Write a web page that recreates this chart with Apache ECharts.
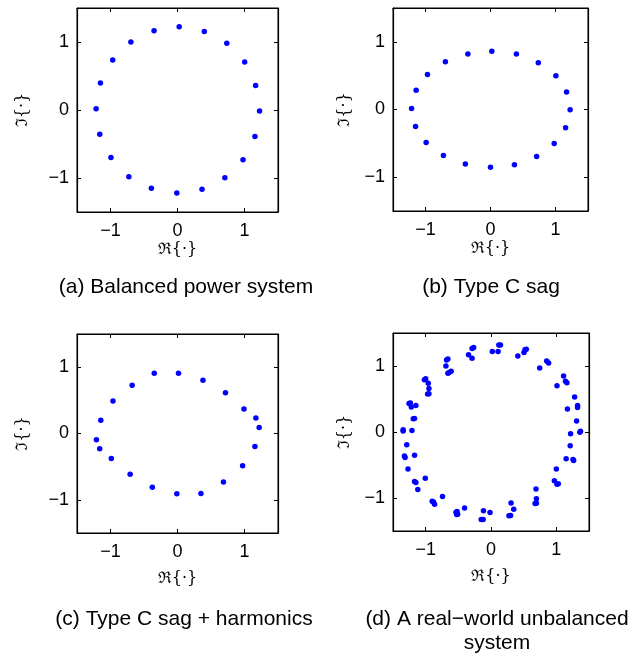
<!DOCTYPE html>
<html>
<head>
<meta charset="utf-8">
<script src="https://cdn.jsdelivr.net/npm/echarts@6/dist/echarts.min.js"></script>
<style>
  html, body { margin: 0; padding: 0; background: #fff; }
  #chart { width: 632px; height: 657px; }
</style>
</head>
<body>
<div id="chart"></div>
<script>
// Space-vector samples (real / imaginary parts) for each operating condition

// (a) Balanced power system
const balancedRe = [0.025, 0.40, 0.736, 1.003, 1.166, 1.225, 1.156, 0.978, 0.707, 0.366,
  -0.01, -0.39, -0.726, -0.993, -1.16, -1.215, -1.15, -0.967, -0.696, -0.35];
const balancedIm = [1.225, 1.156, 0.98, 0.705, 0.362, -0.015, -0.388, -0.731, -0.996, -1.167,
  -1.22, -1.152, -0.981, -0.697, -0.358, 0.02, 0.397, 0.735, 1.0, 1.166];

// (b) Type C sag
const sagRe = [0.02, 0.398, 0.735, 1.006, 1.17, 1.225, 1.155, 0.98, 0.71, 0.368,
  0.0, -0.387, -0.724, -0.99, -1.153, -1.214, -1.144, -0.97, -0.694, -0.348];
const sagIm = [0.859, 0.82, 0.69, 0.5, 0.257, -0.005, -0.27, -0.504, -0.696, -0.815,
  -0.855, -0.805, -0.681, -0.489, -0.252, 0.015, 0.286, 0.519, 0.706, 0.82];

// (c) Type C sag + harmonics
const harmRe = [0.015, 0.38, 0.716, 0.992, 1.17, 1.219, 1.156, 0.972, 0.686, 0.35,
  -0.01, -0.376, -0.707, -0.988, -1.161, -1.21, -1.145, -0.963, -0.677, -0.347];
const harmIm = [0.909, 0.804, 0.615, 0.369, 0.234, 0.09, -0.195, -0.486, -0.73, -0.906,
  -0.91, -0.81, -0.615, -0.375, -0.231, -0.096, 0.2, 0.489, 0.729, 0.909];

// (d) Measured unbalanced system
const realRe = [-0.29, -0.265, 0.02, -0.344, -0.29, -0.68, -0.66, -0.69, -0.66, -0.64,
  -0.61, -1.02, -1.0, -0.96, -0.95, -0.97, -0.95, -1.255, -1.235, -1.22,
  -1.15, -1.19, -1.17, -1.345, -1.345, -1.21,
  0.12, 0.145, 0.108, 0.52, 0.54, 0.505, 0.41, 0.852, 0.882, 0.745,
  1.111, 1.14, 1.162, 1.01, 1.28, 1.325, 1.325, 1.17, 1.31, 1.36, 1.37,
  -1.29, -1.325, -1.315, -1.17, -1.27, -1.17, -1.15, -1.006, -1.12, -0.9,
  -0.88, -0.864, -0.742, -0.535, -0.52, -0.525, -0.51, -0.405, -0.115, -0.15,
  -0.12, -0.015,
  1.218, 1.212, 1.15, 1.255, 1.265, 1.0, 0.97, 1.01, 1.03, 0.689,
  0.695, 0.675, 0.695, 0.307, 0.348, 0.275, 0.3];
const realIm = [1.265, 1.28, 1.22, 1.17, 1.117, 1.09, 1.105, 1.0, 0.89, 0.9,
  0.92, 0.79, 0.805, 0.737, 0.66, 0.575, 0.58, 0.43, 0.44, 0.378,
  0.403, 0.2, 0.205, 0.015, 0.035, 0.022,
  1.32, 1.32, 1.22, 1.245, 1.255, 1.205, 1.15, 1.075, 1.045, 0.97,
  0.85, 0.77, 0.747, 0.70, 0.53, 0.40, 0.37, 0.35, 0.167, -0.005, 0.01,
  -0.194, -0.365, -0.385, -0.353, -0.56, -0.75, -0.765, -0.70, -0.87, -1.05,
  -1.06, -1.096, -0.976, -1.215, -1.205, -1.25, -1.245, -1.15, -1.195, -1.325,
  -1.325, -1.22,
  -0.028, -0.209, -0.404, -0.415, -0.43, -0.56, -0.74, -0.79, -0.785, -0.865,
  -1.01, -1.085, -1.08, -1.075, -1.17, -1.27, -1.265];

const tickValues = [-1, 0, 1];
const axisRange = [-1.5, 1.5];
const xName = 'ℜ{·}';
const yName = 'ℑ{·}';
const captions = [
  '(a) Balanced power system',
  '(b) Type C sag',
  '(c) Type C sag + harmonics',
  '(d) A real\u2212world unbalanced\nsystem'
];

const panels = [
  { re: balancedRe, im: balancedIm, grid: { left: 77, top: 8, width: 201, height: 204 },
    xGap: 30, yGap: 46, cap: { x: 186, y: 287 } },
  { re: sagRe, im: sagIm, grid: { left: 393, top: 8, width: 195, height: 203 },
    xGap: 30, yGap: 40, cap: { x: 491, y: 287 } },
  { re: harmRe, im: harmIm, grid: { left: 77, top: 334, width: 201, height: 199 },
    xGap: 38, yGap: 46, cap: { x: 184, y: 619 } },
  { re: realRe, im: realIm, grid: { left: 393, top: 333, width: 196, height: 198 },
    xGap: 38, yGap: 40, cap: { x: 497, y: 631 } }
];

const tickFont = { fontFamily: 'Liberation Sans, Arial, sans-serif', fontSize: 18, color: '#000' };
const nameFont = { fontFamily: 'DejaVu Serif, serif', fontSize: 16, color: '#000' };
const fmt = v => String(v).replace('-', '\u2212');

const grids = [], xAxes = [], yAxes = [], series = [], graphics = [];

panels.forEach((p, i) => {
  grids.push(Object.assign({ show: true, borderColor: '#000', borderWidth: 1,
    backgroundColor: '#fff' }, p.grid));

  const common = {
    gridIndex: i, type: 'value', min: axisRange[0], max: axisRange[1],
    splitLine: { show: false },
    axisLine: { show: true, onZero: false, lineStyle: { color: '#000', width: 1.2 } },
    axisTick: { show: true, inside: true, length: 4, customValues: tickValues,
      lineStyle: { color: '#000', width: 1 } }
  };

  xAxes.push(Object.assign({}, common, {
    position: 'bottom', name: xName, nameLocation: 'middle', nameGap: p.xGap,
    nameTextStyle: nameFont,
    axisLabel: Object.assign({ customValues: tickValues, margin: 10, formatter: fmt }, tickFont)
  }));
  xAxes.push(Object.assign({}, common, { position: 'top', axisLabel: { show: false } }));

  yAxes.push(Object.assign({}, common, {
    position: 'left', name: yName, nameLocation: 'middle', nameGap: p.yGap, nameRotate: 90,
    nameTextStyle: nameFont,
    axisLabel: Object.assign({ customValues: tickValues, margin: 8, formatter: fmt }, tickFont)
  }));
  yAxes.push(Object.assign({}, common, { position: 'right', axisLabel: { show: false } }));

  series.push({
    type: 'scatter', xAxisIndex: 2 * i, yAxisIndex: 2 * i,
    data: p.re.map((v, k) => [v, p.im[k]]),
    symbol: 'circle', symbolSize: 5.5,
    itemStyle: { color: '#0000ff', opacity: 1 }, silent: true, animation: false
  });

  graphics.push({
    type: 'text', x: p.cap.x, y: p.cap.y,
    style: { text: captions[i], textAlign: 'center', textVerticalAlign: 'middle',
      fontFamily: 'Liberation Sans, Arial, sans-serif', fontSize: 21, lineHeight: 24, fill: '#000' }
  });
});

const chart = echarts.init(document.getElementById('chart'), null, { renderer: 'canvas' });
chart.setOption({
  animation: false,
  backgroundColor: '#fff',
  grid: grids, xAxis: xAxes, yAxis: yAxes, series: series, graphic: graphics
});
</script>
</body>
</html>
